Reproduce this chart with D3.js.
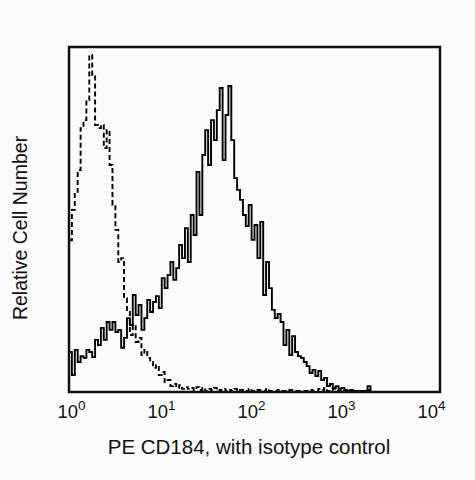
<!DOCTYPE html>
<html>
<head>
<meta charset="utf-8">
<script src="https://cdn.jsdelivr.net/npm/d3@7"></script>
<style>
  html, body { margin: 0; padding: 0; background: #fbfbfb; }
  svg { display: block; font-family: "Liberation Sans", Arial, sans-serif; }
</style>
</head>
<body>
<div id="chart"></div>
<script>
// histogram channels: 32 per decade, 4 decades
const BINS_PER_DECADE = 32;
const decades = [0, 1, 2, 3, 4];

// PE CD184 (solid), relative counts per channel
const cd184 = [
  11.6, 4.9, 12.2, 8.7, 10.4, 9.9, 12.2, 11.6, 10.1, 15.1,
  13.6, 18.6, 15.1, 20.3, 18, 20.3, 17.4, 18, 12.8, 15.7,
  21.4, 19.4, 28.1, 22.3, 25.2, 18, 21.4, 26.7, 23.2, 26.1,
  27.8, 24.3, 33, 30.1, 33.9, 37.7, 32.5, 35.9, 42.6, 38.8,
  47.5, 37.7, 51.3, 45.5, 63.8, 51.3, 68.7, 75.9, 65.8, 78.8,
  73, 81.7, 88.1, 67.2, 80.3, 88.7, 73, 62, 58.6, 55.7,
  51.3, 48.1, 54.2, 44.1, 48.4, 38.8, 49.3, 28.1, 37.7, 30.1,
  23.8, 21.4, 22.6, 20.3, 13.6, 18, 10.7, 16.2, 11.6, 10.4,
  9.9, 8.7, 7.5, 5.5, 6.4, 4.6, 6.1, 3.5, 4.1, 1.7,
  2.3, 1.2, 1.7, 0.9, 1.2, 0.6, 0.3, 0.6, 0, 0.3,
  0.3, 0, 0.3, 1.7, 0, 0, 0, 0, 0, 0,
  0, 0, 0, 0, 0, 0, 0, 0, 0, 0,
  0, 0, 0, 0, 0, 0, 0, 0
];

// isotype control (dashed)
const isotype = [
  44, 52.8, 58, 64.3, 76.5, 78.8, 84.6, 97.7, 91.9, 77.4,
  76.5, 77.4, 70.7, 75.9, 65.8, 54.2, 47, 37.7, 38.8, 27.2,
  23.2, 16.5, 19.4, 14.5, 15.7, 10.7, 12.2, 9.9, 8.7, 7,
  7.8, 4.9, 5.8, 2.9, 3.5, 1.7, 2.3, 1.2, 2, 0.9,
  1.4, 0.9, 1.2, 0.6, 1.4, 0.6, 1.2, 0.3, 0.9, 0.6,
  1.2, 0.3, 0.6, 0.9, 0.3, 0.6, 0.3, 0.9, 0.3, 0.6,
  0.3, 0.3, 0.9, 0.3, 0.3, 0.6, 0.3, 0.3, 0.9, 0.3,
  0.3, 0.3, 0.6, 0.3, 0.3, 0.3, 0.6, 0.3, 0.3, 0.3,
  0.3, 0.3, 0.3, 0.6, 0.3, 0.3, 0.9, 0.6, 1.2, 0.3,
  0.6, 0.9, 0.3, 0.3, 0.6, 0.3, 0.3, 0.3, 0.3, 0.3,
  0.3, 0.3, 0.3, 0.6, 0, 0, 0, 0, 0, 0,
  0, 0, 0, 0, 0, 0, 0, 0, 0, 0,
  0, 0, 0, 0, 0, 0, 0, 0
];

const xTitle = 'PE CD184, with isotype control';
const yTitle = 'Relative Cell Number';

const width = 475, height = 480;
const plot = { left: 69, top: 47, right: 440, bottom: 392 };

const svg = d3.select('#chart').append('svg')
  .attr('width', width).attr('height', height);

const x = d3.scaleLog().domain([1, 1e4]).range([plot.left, plot.right]);
// decade labels sit on a slightly narrower span than the frame
const xLab = d3.scaleLog().domain([1, 1e4]).range([71.5, 431.5]);
const y = d3.scaleLinear().domain([0, 100]).range([plot.bottom, plot.top]);

const toPoints = arr => {
  const pts = arr.map((v, i) => [Math.pow(10, i / BINS_PER_DECADE), v]);
  pts.push([1e4, arr[arr.length - 1]]);
  return pts;
};

const line = d3.line()
  .x(d => x(d[0]))
  .y(d => y(d[1]))
  .curve(d3.curveStepAfter);

svg.append('path')
  .datum(toPoints(isotype))
  .attr('fill', 'none')
  .attr('stroke', '#000')
  .attr('stroke-width', 1.9)
  .attr('stroke-dasharray', '5,3')
  .attr('d', line);

svg.append('path')
  .datum(toPoints(cd184))
  .attr('fill', 'none')
  .attr('stroke', '#000')
  .attr('stroke-width', 1.9)
  .attr('d', line);

// frame
svg.append('rect')
  .attr('x', plot.left).attr('y', plot.top)
  .attr('width', plot.right - plot.left)
  .attr('height', plot.bottom - plot.top)
  .attr('fill', 'none')
  .attr('stroke', '#111')
  .attr('stroke-width', 2.5);

// decade labels 10^n
const labels = svg.append('g').selectAll('text')
  .data(decades)
  .join('text')
  .attr('x', d => xLab(Math.pow(10, d)))
  .attr('y', 418)
  .attr('text-anchor', 'middle')
  .attr('font-size', 18.5)
  .attr('fill', '#111');
labels.append('tspan').text('10');
labels.append('tspan')
  .attr('dy', -8)
  .attr('font-size', 13.5)
  .text(d => d);

svg.append('text')
  .attr('x', 249).attr('y', 454)
  .attr('text-anchor', 'middle')
  .attr('font-size', 20.5)
  .attr('fill', '#111')
  .text(xTitle);

svg.append('text')
  .attr('transform', 'translate(27,228) rotate(-90)')
  .attr('text-anchor', 'middle')
  .attr('font-size', 19.5)
  .attr('fill', '#111')
  .text(yTitle);
</script>
</body>
</html>
